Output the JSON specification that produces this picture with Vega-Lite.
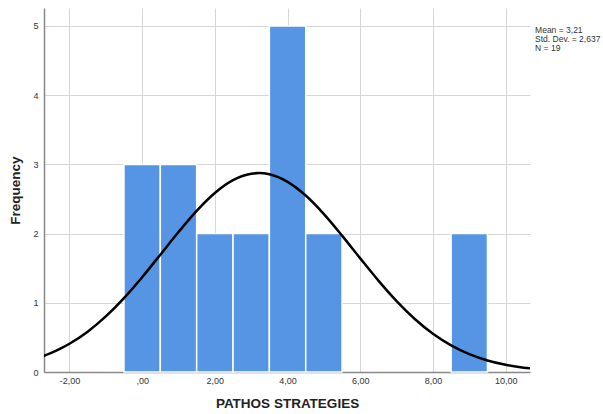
{
  "$schema": "https://vega.github.io/schema/vega-lite/v6.json",
  "width": 486,
  "height": 364,
  "autosize": {"type": "none"},
  "padding": {"left": 44, "top": 8, "right": 73, "bottom": 42},
  "config": {
    "view": {"stroke": null},
    "font": "Liberation Sans",
    "axis": {
      "labelFont": "Liberation Sans",
      "titleFont": "Liberation Sans",
      "labelColor": "#333333",
      "labelFontSize": 9,
      "titleFontSize": 13.5,
      "titleFontWeight": "bold",
      "titleColor": "#222222",
      "gridColor": "#d6d6d6",
      "gridWidth": 1,
      "domainColor": "#888888",
      "domainWidth": 1.5,
      "ticks": false
    }
  },
  "layer": [
    {
      "data": {"values": [
        {"start": -0.5, "end": 0.5, "count": 3},
        {"start": 0.5, "end": 1.5, "count": 3},
        {"start": 1.5, "end": 2.5, "count": 2},
        {"start": 2.5, "end": 3.5, "count": 2},
        {"start": 3.5, "end": 4.5, "count": 5},
        {"start": 4.5, "end": 5.5, "count": 2},
        {"start": 8.5, "end": 9.5, "count": 2}
      ]},
      "mark": {"type": "rect", "color": "#5595e4", "stroke": "white", "strokeWidth": 1.5},
      "encoding": {
        "x": {
          "field": "start", "type": "quantitative",
          "scale": {"domain": [-2.7, 10.67], "nice": false, "zero": false},
          "axis": {
            "values": [-2, 0, 2, 4, 6, 8, 10],
            "labelExpr": "datum.value == 0 ? ',00' : replace(replace(format(datum.value, '.2f'), '.', ','), '−', '-')",
            "title": "PATHOS STRATEGIES",
            "titlePadding": 11,
            "labelPadding": 4
          }
        },
        "x2": {"field": "end"},
        "y": {
          "field": "count", "type": "quantitative",
          "scale": {"domain": [0, 5.26], "nice": false},
          "axis": {
            "values": [0, 1, 2, 3, 4, 5],
            "format": "d",
            "title": "Frequency",
            "titlePadding": 10,
            "labelPadding": 6
          }
        },
        "y2": {"datum": 0}
      }
    },
    {
      "data": {"values": [
        {"x": -2.75, "y": 0.2234},
        {"x": -2.5, "y": 0.2757},
        {"x": -2.25, "y": 0.337},
        {"x": -2, "y": 0.4083},
        {"x": -1.5, "y": 0.5831},
        {"x": -1, "y": 0.8036},
        {"x": -0.5, "y": 1.0682},
        {"x": 0, "y": 1.37},
        {"x": 0.5, "y": 1.6949},
        {"x": 1, "y": 2.0228},
        {"x": 1.5, "y": 2.329},
        {"x": 2, "y": 2.5867},
        {"x": 2.5, "y": 2.7717},
        {"x": 3, "y": 2.8649},
        {"x": 3.21, "y": 2.874},
        {"x": 3.5, "y": 2.8567},
        {"x": 4, "y": 2.7479},
        {"x": 4.5, "y": 2.5498},
        {"x": 5, "y": 2.2826},
        {"x": 5.5, "y": 1.9713},
        {"x": 6, "y": 1.6422},
        {"x": 6.5, "y": 1.3197},
        {"x": 7, "y": 1.0231},
        {"x": 7.5, "y": 0.7652},
        {"x": 8, "y": 0.5521},
        {"x": 8.5, "y": 0.3843},
        {"x": 9, "y": 0.258},
        {"x": 9.5, "y": 0.1671},
        {"x": 10, "y": 0.1044},
        {"x": 10.5, "y": 0.0629},
        {"x": 10.75, "y": 0.0482}
      ]},
      "mark": {"type": "line", "color": "black", "strokeWidth": 2.5, "interpolate": "monotone", "clip": true},
      "encoding": {
        "x": {"field": "x", "type": "quantitative"},
        "y": {"field": "y", "type": "quantitative"}
      }
    },
    {
      "data": {"values": [
        {"x": 10.81, "y": 4.945, "label": "Mean = 3,21"},
        {"x": 10.81, "y": 4.81, "label": "Std. Dev. = 2,637"},
        {"x": 10.81, "y": 4.675, "label": "N = 19"}
      ]},
      "mark": {"type": "text", "align": "left", "baseline": "middle", "fontSize": 8.5, "color": "#333333", "clip": false},
      "encoding": {
        "x": {"field": "x", "type": "quantitative"},
        "y": {"field": "y", "type": "quantitative"},
        "text": {"field": "label"}
      }
    }
  ]
}
